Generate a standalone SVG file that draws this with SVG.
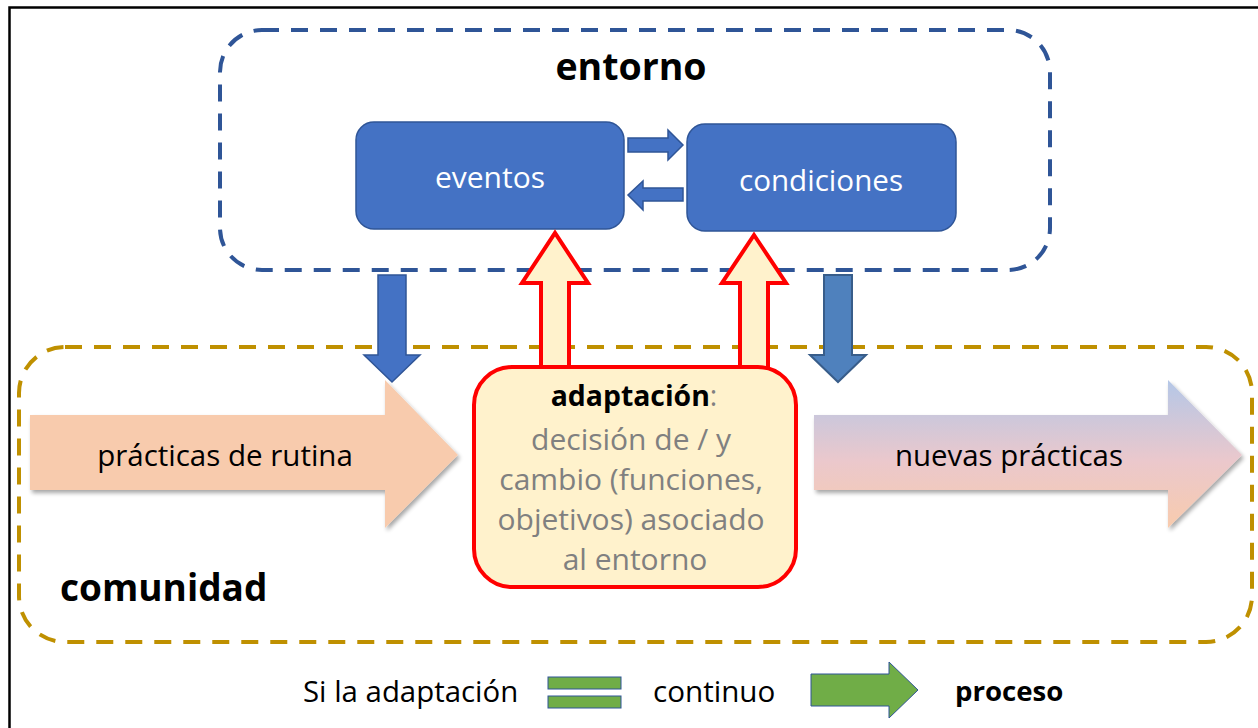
<svg xmlns="http://www.w3.org/2000/svg" width="1258" height="728" viewBox="0 0 1258 728">
<defs>
<style>
.t{font-family:"Open Sans","Noto Sans","Liberation Sans",sans-serif;}
.blue{fill:#4472C4;stroke:#2F5597;stroke-width:1.5;}
.redarrow{fill:#FFF2CC;stroke:#FF0000;stroke-width:4;stroke-linejoin:miter;}
</style>
<linearGradient id="g1" x1="0" y1="0" x2="0" y2="1">
<stop offset="0" stop-color="#B4C7E7"/>
<stop offset="0.55" stop-color="#EBC8CC"/>
<stop offset="1" stop-color="#F8CBAD"/>
</linearGradient>
<filter id="sh" x="-5%" y="-10%" width="115%" height="130%">
<feGaussianBlur in="SourceAlpha" stdDeviation="2"/>
<feOffset dx="2" dy="3" result="b"/>
<feComponentTransfer><feFuncA type="linear" slope="0.35"/></feComponentTransfer>
<feMerge><feMergeNode/><feMergeNode in="SourceGraphic"/></feMerge>
</filter>
</defs>
<rect width="1258" height="728" fill="#fff"/>
<path d="M9.5 740 V7.5 H1270" fill="none" stroke="#000" stroke-width="2.5"/>

<g id="entorno">
<rect x="220" y="30" width="830" height="240" rx="42" fill="none" stroke="#2F5597" stroke-width="4" stroke-dasharray="17,12"/>
<text class="t" x="631" y="80" font-size="37.5" font-weight="bold" text-anchor="middle" fill="#000">entorno</text>
</g>

<g id="comunidad">
<rect x="19" y="347" width="1233" height="295" rx="46" fill="none" stroke="#BF9000" stroke-width="4" stroke-dasharray="17,12"/>
<text class="t" x="60" y="601" font-size="37" font-weight="bold" fill="#000">comunidad</text>
</g>

<g id="eventos">
<rect class="blue" x="356" y="122" width="268" height="107" rx="18"/>
<text class="t" x="490" y="188" font-size="30" text-anchor="middle" fill="#fff">eventos</text>
</g>

<g id="condiciones">
<rect class="blue" x="687" y="124" width="269" height="107" rx="18"/>
<text class="t" x="821" y="191" font-size="29.6" text-anchor="middle" fill="#fff">condiciones</text>
</g>

<g id="practicas">
<path d="M30 415 H385 V380 L458 455 L385 528 V490 H30 Z" fill="#F8CBAD" filter="url(#sh)"/>
<text class="t" x="225" y="466" font-size="29.5" text-anchor="middle" fill="#000">prácticas de rutina</text>
</g>

<g id="nuevas">
<path d="M814 415 H1168 V380 L1242 455 L1168 528 V490 H814 Z" fill="url(#g1)" filter="url(#sh)"/>
<text class="t" x="1009" y="466" font-size="29.4" text-anchor="middle" fill="#000">nuevas prácticas</text>
</g>

<g id="connectors">
<path class="blue" d="M628 138 H668 V130 L683 145 L668 160 V152 H628 Z"/>
<path class="blue" d="M683 188 H643 V181 L628 195 L643 210 V201 H683 Z"/>
<path class="blue" d="M378 275 H406 V355 H420 L392 382 L364 355 H378 Z"/>
<path d="M824 275 H852 V355 H866 L838 382 L810 355 H824 Z" fill="#4F81BD" stroke="#385D8A" stroke-width="2"/>
<path class="redarrow" d="M541 368 V283 H522 L555 233 L588 283 H569 V368"/>
<path class="redarrow" d="M740 368 V283 H722 L754 235 L786 283 H768 V368"/>
</g>

<g id="adaptacion">
<rect x="474" y="367" width="322" height="220" rx="38" fill="#FFF2CC" stroke="#FF0000" stroke-width="4"/>
<text class="t" x="634" y="406" font-size="28.4" text-anchor="middle"><tspan font-weight="bold" fill="#000">adaptación</tspan><tspan fill="#808080">:</tspan></text>
<text class="t" font-size="30" text-anchor="middle" fill="#808080">
<tspan x="635" y="450">decisión de / y</tspan>
<tspan x="635" y="490">cambio (funciones,</tspan>
<tspan x="635" y="530">objetivos) asociado</tspan>
<tspan x="635" y="570">al entorno</tspan>
</text>
</g>

<g id="legend">
<text class="t" x="303" y="702" font-size="29.4" fill="#000">Si la adaptación</text>
<rect x="548" y="677" width="73" height="12" fill="#70AD47" stroke="#2F5597" stroke-width="1"/>
<rect x="548" y="696" width="73" height="12" fill="#70AD47" stroke="#2F5597" stroke-width="1"/>
<text class="t" x="653" y="702" font-size="29.6" fill="#000">continuo</text>
<path d="M811 674 H889 V662 L918 690 L889 718 V706 H811 Z" fill="#70AD47" stroke="#2F5597" stroke-width="1"/>
<text class="t" x="955" y="701" font-size="27.6" font-weight="bold" fill="#000">proceso</text>
</g>
</svg>
